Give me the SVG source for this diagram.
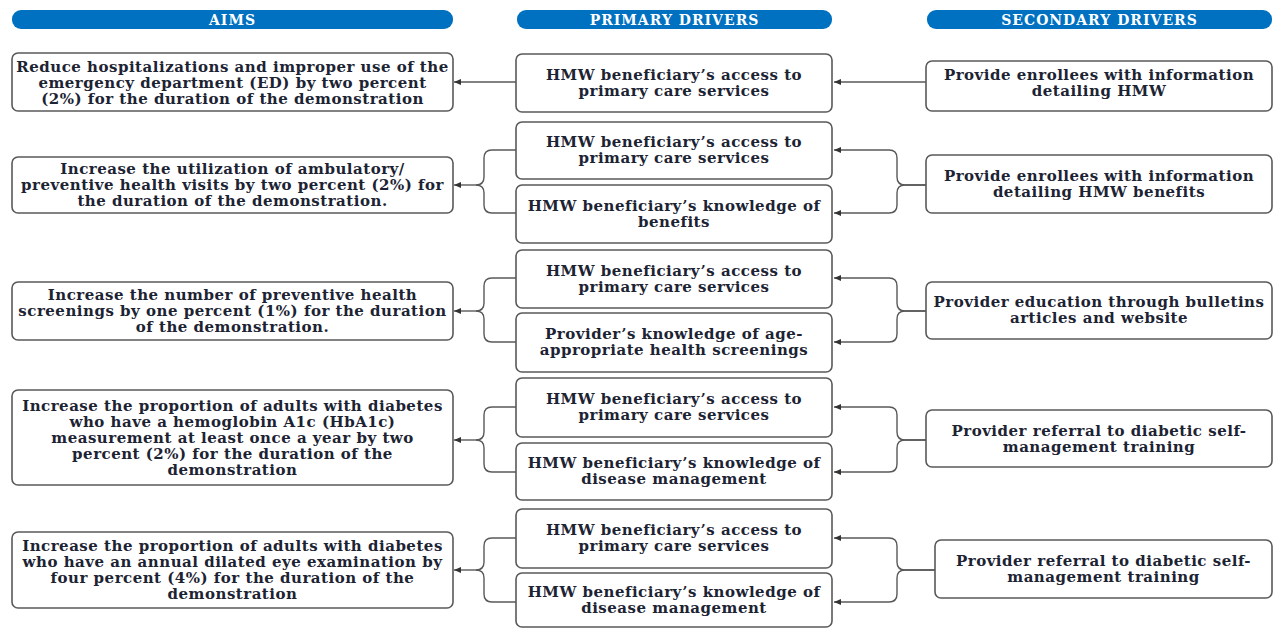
<svg xmlns="http://www.w3.org/2000/svg" width="1276" height="628" viewBox="0 0 1276 628">
<style>
.hdr{fill:#0070C0}
.ht{font-family:"DejaVu Serif","Liberation Serif",serif;font-weight:bold;font-size:14px;letter-spacing:1px;fill:#fff;text-anchor:middle}
.box{fill:#fff;stroke:#595959;stroke-width:1.6}
.t{font-family:"DejaVu Serif","Liberation Serif",serif;font-weight:bold;font-size:15px;letter-spacing:0.5px;fill:#1c2333;text-anchor:middle}
.c{fill:none;stroke:#595959;stroke-width:1.4}
</style>
<defs>
<marker id="ah" markerUnits="userSpaceOnUse" markerWidth="7" markerHeight="6" refX="7" refY="3" orient="auto">
<path d="M0,0 L7,3 L0,6 z" fill="#333"/>
</marker>
</defs>
<rect width="1276" height="628" fill="#fff"/>
<g id="headers">
<rect class="hdr" x="12" y="10" width="441" height="19" rx="9"/>
<text class="ht" x="232.5" y="24.5">AIMS</text>
<rect class="hdr" x="517" y="10" width="315" height="19" rx="9"/>
<text class="ht" x="674.5" y="24.5">PRIMARY DRIVERS</text>
<rect class="hdr" x="927" y="10" width="345" height="19" rx="9"/>
<text class="ht" x="1099.5" y="24.5">SECONDARY DRIVERS</text>
</g>
<g id="connectors">
<line class="c" x1="516" y1="82" x2="454" y2="82" marker-end="url(#ah)"/>
<line class="c" x1="926" y1="82" x2="834" y2="82" marker-end="url(#ah)"/>
<path class="c" d="M516,150 H492 Q484,150 484,158 V177 Q484,185 476,185 M516,213 H492 Q484,213 484,205 V193 Q484,185 476,185"/>
<line class="c" x1="477" y1="185" x2="454" y2="185" marker-end="url(#ah)"/>
<path class="c" d="M926,185 H905 Q897,185 897,177 V158 Q897,150 889,150 H834" marker-end="url(#ah)"/>
<path class="c" d="M926,185 H905 Q897,185 897,193 V205 Q897,213 889,213 H834" marker-end="url(#ah)"/>
<path class="c" d="M516,278 H492 Q484,278 484,286 V303 Q484,311 476,311 M516,342 H492 Q484,342 484,334 V319 Q484,311 476,311"/>
<line class="c" x1="477" y1="311" x2="454" y2="311" marker-end="url(#ah)"/>
<path class="c" d="M926,311 H905 Q897,311 897,303 V286 Q897,278 889,278 H834" marker-end="url(#ah)"/>
<path class="c" d="M926,311 H905 Q897,311 897,319 V334 Q897,342 889,342 H834" marker-end="url(#ah)"/>
<path class="c" d="M516,407 H492 Q484,407 484,415 V432 Q484,440 476,440 M516,472 H492 Q484,472 484,464 V448 Q484,440 476,440"/>
<line class="c" x1="477" y1="440" x2="454" y2="440" marker-end="url(#ah)"/>
<path class="c" d="M926,440 H905 Q897,440 897,432 V415 Q897,407 889,407 H834" marker-end="url(#ah)"/>
<path class="c" d="M926,440 H905 Q897,440 897,448 V464 Q897,472 889,472 H834" marker-end="url(#ah)"/>
<path class="c" d="M516,538 H492 Q484,538 484,546 V562 Q484,570 476,570 M516,602 H492 Q484,602 484,594 V578 Q484,570 476,570"/>
<line class="c" x1="477" y1="570" x2="454" y2="570" marker-end="url(#ah)"/>
<path class="c" d="M935,570 H905 Q897,570 897,562 V546 Q897,538 889,538 H834" marker-end="url(#ah)"/>
<path class="c" d="M935,570 H905 Q897,570 897,578 V594 Q897,602 889,602 H834" marker-end="url(#ah)"/>
</g>
<g id="aim1">
<rect class="box" x="12" y="53" width="441" height="58" rx="6"/>
<text class="t" x="232.5" y="71.5">Reduce hospitalizations and improper use of the</text>
<text class="t" x="232.5" y="87.5">emergency department (ED) by two percent</text>
<text class="t" x="232.5" y="103.5">(2%) for the duration of the demonstration</text>
</g>
<g id="p1">
<rect class="box" x="516" y="54" width="316" height="58" rx="6"/>
<text class="t" x="674" y="80">HMW beneficiary’s access to</text>
<text class="t" x="674" y="96">primary care services</text>
</g>
<g id="s1">
<rect class="box" x="926" y="61" width="346" height="50" rx="6"/>
<text class="t" x="1099" y="80">Provide enrollees with information</text>
<text class="t" x="1099" y="96">detailing HMW</text>
</g>
<g id="aim2">
<rect class="box" x="12" y="157" width="441" height="56" rx="6"/>
<text class="t" x="232.5" y="174">Increase the utilization of ambulatory/</text>
<text class="t" x="232.5" y="190">preventive health visits by two percent (2%) for</text>
<text class="t" x="232.5" y="206">the duration of the demonstration.</text>
</g>
<g id="p2a">
<rect class="box" x="516" y="122" width="316" height="57" rx="6"/>
<text class="t" x="674" y="147">HMW beneficiary’s access to</text>
<text class="t" x="674" y="163">primary care services</text>
</g>
<g id="p2b">
<rect class="box" x="516" y="185" width="316" height="58" rx="6"/>
<text class="t" x="674" y="210.5">HMW beneficiary’s knowledge of</text>
<text class="t" x="674" y="226.5">benefits</text>
</g>
<g id="s2">
<rect class="box" x="926" y="155" width="346" height="58" rx="6"/>
<text class="t" x="1099" y="181">Provide enrollees with information</text>
<text class="t" x="1099" y="197">detailing HMW benefits</text>
</g>
<g id="aim3">
<rect class="box" x="12" y="282" width="441" height="58" rx="6"/>
<text class="t" x="232.5" y="300">Increase the number of preventive health</text>
<text class="t" x="232.5" y="316">screenings by one percent (1%) for the duration</text>
<text class="t" x="232.5" y="332">of the demonstration.</text>
</g>
<g id="p3a">
<rect class="box" x="516" y="250" width="316" height="58" rx="6"/>
<text class="t" x="674" y="275.5">HMW beneficiary’s access to</text>
<text class="t" x="674" y="291.5">primary care services</text>
</g>
<g id="p3b">
<rect class="box" x="516" y="313" width="316" height="59" rx="6"/>
<text class="t" x="674" y="339">Provider’s knowledge of age-</text>
<text class="t" x="674" y="355">appropriate health screenings</text>
</g>
<g id="s3">
<rect class="box" x="926" y="282" width="346" height="57" rx="6"/>
<text class="t" x="1099" y="307">Provider education through bulletins</text>
<text class="t" x="1099" y="323">articles and website</text>
</g>
<g id="aim4">
<rect class="box" x="12" y="390" width="441" height="95" rx="6"/>
<text class="t" x="232.5" y="411">Increase the proportion of adults with diabetes</text>
<text class="t" x="232.5" y="427">who have a hemoglobin A1c (HbA1c)</text>
<text class="t" x="232.5" y="443">measurement at least once a year by two</text>
<text class="t" x="232.5" y="459">percent (2%) for the duration of the</text>
<text class="t" x="232.5" y="475">demonstration</text>
</g>
<g id="p4a">
<rect class="box" x="516" y="378" width="316" height="59" rx="6"/>
<text class="t" x="674" y="404">HMW beneficiary’s access to</text>
<text class="t" x="674" y="420">primary care services</text>
</g>
<g id="p4b">
<rect class="box" x="516" y="443" width="316" height="57" rx="6"/>
<text class="t" x="674" y="468">HMW beneficiary’s knowledge of</text>
<text class="t" x="674" y="484">disease management</text>
</g>
<g id="s4">
<rect class="box" x="926" y="410" width="346" height="57" rx="6"/>
<text class="t" x="1099" y="435.5">Provider referral to diabetic self-</text>
<text class="t" x="1099" y="451.5">management training</text>
</g>
<g id="aim5">
<rect class="box" x="12" y="532" width="441" height="76" rx="6"/>
<text class="t" x="232.5" y="550.5">Increase the proportion of adults with diabetes</text>
<text class="t" x="232.5" y="566.5">who have an annual dilated eye examination by</text>
<text class="t" x="232.5" y="582.5">four percent (4%) for the duration of the</text>
<text class="t" x="232.5" y="598.5">demonstration</text>
</g>
<g id="p5a">
<rect class="box" x="516" y="509" width="316" height="59" rx="6"/>
<text class="t" x="674" y="535">HMW beneficiary’s access to</text>
<text class="t" x="674" y="551">primary care services</text>
</g>
<g id="p5b">
<rect class="box" x="516" y="573" width="316" height="54" rx="6"/>
<text class="t" x="674" y="597">HMW beneficiary’s knowledge of</text>
<text class="t" x="674" y="613">disease management</text>
</g>
<g id="s5">
<rect class="box" x="935" y="540" width="337" height="58" rx="6"/>
<text class="t" x="1103.5" y="566">Provider referral to diabetic self-</text>
<text class="t" x="1103.5" y="582">management training</text>
</g>
</svg>
